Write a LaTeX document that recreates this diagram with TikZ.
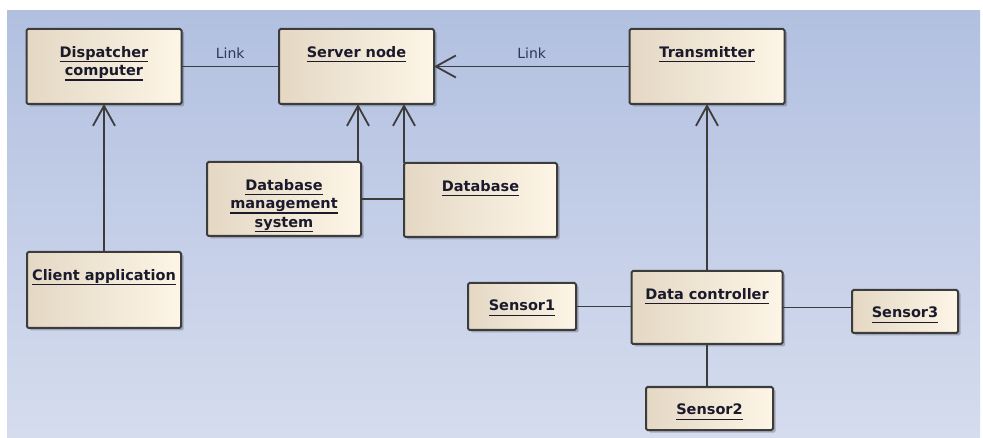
\documentclass[tikz,border=0pt]{standalone}
\usepackage{fontspec}
\setmainfont{DejaVu Sans}
\usetikzlibrary{arrows.meta,shadows}
\definecolor{bgtop}{RGB}{178,192,224}
\definecolor{bgbot}{RGB}{213,220,238}
\definecolor{boxl}{RGB}{228,216,196}
\definecolor{boxr}{RGB}{253,245,230}
\definecolor{edge}{RGB}{60,60,60}
\definecolor{ink}{RGB}{26,26,44}
\definecolor{linkc}{RGB}{48,54,92}
\newcommand{\uname}[1]{\setbox0\hbox{#1}\rlap{\rule[-5pt]{\wd0}{1.4pt}}\box0}
\tikzset{
  >={Straight Barb[length=20pt,width=22pt]},
}
\tikzstyle{unode}=[draw=edge,line width=2pt,rounded corners=1.5pt,left color=boxl,right color=boxr,
  drop shadow={shadow xshift=2.5pt,shadow yshift=-2.5pt,fill=black,opacity=0.22},
  minimum width=155pt,minimum height=75pt,inner sep=0pt,outer sep=0pt]
\tikzstyle{utext}=[anchor=north,yshift=-17pt,inner sep=0pt,align=center,text=ink,
  font=\bfseries\fontsize{14.5}{18.5}\selectfont]
\tikzstyle{link}=[draw=edge,line width=1.8pt]
\tikzstyle{lbl}=[above=7pt,inner sep=0pt,text=linkc,font=\fontsize{14}{16}\selectfont]

\begin{document}
\begin{tikzpicture}[x=1pt,y=-1pt]
  \useasboundingbox (0,0) rectangle (983,438);
  \fill[top color=bgtop,bottom color=bgbot] (7,11) rectangle (980,437);
  \node[unode,label={[utext,name=disp-t]north:\uname{Dispatcher}\\\uname{computer}}] (disp) at (104,66.5) {};
  \node[unode,label={[utext,name=server-t]north:\uname{Server node}}] (server) at (356.5,66.5) {};
  \node[unode,label={[utext,name=trans-t]north:\uname{Transmitter}}] (trans) at (707,66.5) {};
  \node[unode,minimum width=154pt,minimum height=74pt,
    label={[utext,name=dbms-t]north:\uname{Database}\\\uname{management}\\\uname{system}}] (dbms) at (284,199) {};
  \node[unode,minimum width=153pt,minimum height=74pt,label={[utext,name=db-t]north:\uname{Database}}] (db) at (480.5,200) {};
  \node[unode,minimum width=154pt,minimum height=76pt,label={[utext,name=client-t]north:\uname{Client application}}] (client) at (104,290) {};
  \node[unode,minimum width=151pt,minimum height=73pt,label={[utext,name=ctrl-t]north:\uname{Data controller}}] (ctrl) at (707,307.5) {};
  \node[unode,minimum width=108pt,minimum height=47pt,label={[utext,name=s1-t]north:\uname{Sensor1}}] (s1) at (522,306.5) {};
  \node[unode,minimum width=106pt,minimum height=43pt,label={[utext,name=s3-t]north:\uname{Sensor3}}] (s3) at (905,311.5) {};
  \node[unode,minimum width=127pt,minimum height=43pt,label={[utext,name=s2-t]north:\uname{Sensor2}}] (s2) at (709.5,408.5) {};
  \draw[link] (disp.east) -- node[lbl] (link1) {Link} (server.west);
  \draw[link,->] (trans.west) -- node[lbl] (link2) {Link} (server.east);
  \draw[link,->] (client.north) -- (disp.south);
  \draw[link,->] ([xshift=-3pt]dbms.north east) -- ([xshift=-3pt]dbms.north east |- server.south);
  \draw[link,->] (db.north west) -- (db.north west |- server.south);
  \draw[link] (dbms.east) -- (dbms.east -| db.west);
  \draw[link,->] (ctrl.north) -- (trans.south);
  \draw[link] (s1.east) -- (s1.east -| ctrl.west);
  \draw[link] (ctrl.east) -- (ctrl.east -| s3.west);
  \draw[link] (ctrl.south) -- (ctrl.south |- s2.north);
\end{tikzpicture}
\end{document}
